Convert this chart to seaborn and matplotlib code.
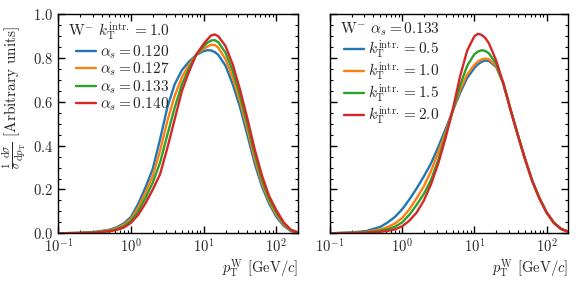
import numpy as np
import pandas as pd
import matplotlib
matplotlib.use('Agg')
import matplotlib.pyplot as plt
import seaborn as sns
from matplotlib.ticker import MultipleLocator, LogLocator, NullFormatter

# log10(pT) grid shared by every curve
log_pt = [-1.0, -0.7, -0.5, -0.3, -0.2, -0.1, 0.0, 0.1, 0.2, 0.3, 0.4, 0.5, 0.6, 0.7,
          0.8, 0.9, 1.0, 1.05, 1.1, 1.15, 1.2, 1.3, 1.4, 1.5, 1.6, 1.7, 1.8, 1.9,
          2.0, 2.1, 2.2, 2.3]
pt = np.power(10.0, log_pt)

# left panel: W- kT=1.0, varying alpha_s
alphas = ['0.120', '0.127', '0.133', '0.140']
as_120 = [0.0, 0.002, 0.006, 0.016, 0.027, 0.045, 0.075, 0.135, 0.21, 0.295, 0.43, 0.575,
          0.68, 0.745, 0.785, 0.815, 0.832, 0.836, 0.835, 0.828, 0.815, 0.765, 0.68,
          0.575, 0.45, 0.32, 0.215, 0.135, 0.075, 0.034, 0.01, 0.002]
as_127 = [0.0, 0.0017, 0.005, 0.014, 0.023, 0.039, 0.066, 0.118, 0.186, 0.263, 0.377,
          0.513, 0.627, 0.713, 0.77, 0.816, 0.843, 0.852, 0.861, 0.86, 0.848, 0.795,
          0.71, 0.602, 0.475, 0.342, 0.23, 0.145, 0.085, 0.039, 0.012, 0.003]
as_133 = [0.0, 0.0013, 0.004, 0.011, 0.019, 0.032, 0.057, 0.101, 0.162, 0.232, 0.323,
          0.45, 0.573, 0.68, 0.755, 0.817, 0.854, 0.87, 0.88, 0.882, 0.873, 0.825,
          0.74, 0.628, 0.5, 0.364, 0.245, 0.155, 0.095, 0.045, 0.014, 0.0035]
as_140 = [0.0, 0.001, 0.003, 0.009, 0.015, 0.026, 0.048, 0.085, 0.138, 0.2, 0.27, 0.39,
          0.52, 0.65, 0.74, 0.818, 0.865, 0.885, 0.903, 0.908, 0.9, 0.855, 0.77, 0.655,
          0.525, 0.385, 0.265, 0.17, 0.105, 0.05, 0.016, 0.004]

# right panel: W- alpha_s=0.133, varying intrinsic kT
kts = ['0.5', '1.0', '1.5', '2.0']
kt_05 = [0.0, 0.004, 0.01, 0.03, 0.05, 0.075, 0.11, 0.155, 0.205, 0.26, 0.32, 0.395,
         0.475, 0.56, 0.64, 0.71, 0.755, 0.772, 0.783, 0.789, 0.787, 0.76, 0.685,
         0.565, 0.45, 0.34, 0.24, 0.16, 0.095, 0.048, 0.02, 0.007]
kt_10 = [0.0, 0.002, 0.006, 0.018, 0.029, 0.045, 0.07, 0.11, 0.16, 0.215, 0.285, 0.37,
         0.46, 0.56, 0.655, 0.725, 0.77, 0.785, 0.794, 0.798, 0.795, 0.765, 0.685,
         0.565, 0.45, 0.34, 0.24, 0.16, 0.095, 0.048, 0.02, 0.007]
kt_15 = [0.0, 0.0015, 0.004, 0.012, 0.019, 0.03, 0.05, 0.085, 0.13, 0.18, 0.245, 0.335,
         0.445, 0.56, 0.675, 0.765, 0.818, 0.83, 0.836, 0.833, 0.822, 0.775, 0.685,
         0.565, 0.45, 0.34, 0.24, 0.16, 0.095, 0.048, 0.02, 0.007]
kt_20 = [0.0, 0.001, 0.003, 0.007, 0.011, 0.018, 0.032, 0.058, 0.095, 0.15, 0.225, 0.32,
         0.435, 0.565, 0.715, 0.835, 0.9, 0.911, 0.906, 0.892, 0.868, 0.79, 0.685,
         0.565, 0.45, 0.34, 0.24, 0.16, 0.095, 0.048, 0.02, 0.007]


def long_frame(names, series, fmt):
    rows = []
    for name, ys in zip(names, series):
        for x, y in zip(pt, ys):
            rows.append({'pt': x, 'y': y, 'label': fmt.format(name)})
    return pd.DataFrame(rows)


df_left = long_frame(alphas, [as_120, as_127, as_133, as_140], r'$\alpha_s = {}$')
df_right = long_frame(kts, [kt_05, kt_10, kt_15, kt_20],
                      r'$k_\mathrm{{T}}^\mathrm{{intr.}} = {}$')

sns.set_style('ticks')
plt.rcParams.update({
    'font.family': 'serif',
    'font.serif': ['cmr10'],
    'mathtext.fontset': 'cm',
    'axes.formatter.use_mathtext': True,
    'font.size': 10,
    'axes.linewidth': 1.0,
    'axes.edgecolor': 'black',
})

palette = sns.color_palette('tab10', 4)

fig = plt.figure(figsize=(5.79, 2.82), dpi=100)
ax1 = fig.add_axes([0.1007, 0.1727, 0.4145, 0.7766])
ax2 = fig.add_axes([0.570, 0.1727, 0.4116, 0.7766])

sns.lineplot(data=df_left, x='pt', y='y', hue='label', palette=palette,
             estimator=None, sort=False, linewidth=1.7, ax=ax1)
sns.lineplot(data=df_right, x='pt', y='y', hue='label', palette=palette,
             estimator=None, sort=False, linewidth=1.7, ax=ax2)

titles = [r'W$^{-}$ $k_\mathrm{T}^\mathrm{intr.} = 1.0$',
          r'W$^{-}$ $\alpha_s = 0.133$']
for ax, title in zip([ax1, ax2], titles):
    ax.set_xscale('log')
    ax.set_xlim(0.1, 200)
    ax.set_ylim(0.0, 1.0)
    ax.yaxis.set_major_locator(MultipleLocator(0.2))
    ax.yaxis.set_minor_locator(MultipleLocator(0.05))
    ax.xaxis.set_minor_locator(LogLocator(base=10, subs=np.arange(2, 10)))
    ax.xaxis.set_minor_formatter(NullFormatter())
    ax.tick_params(which='both', direction='in', top=True, right=True,
                   color='black', labelsize=10.5)
    ax.tick_params(which='major', length=5, width=1.0)
    ax.tick_params(which='minor', length=2.5, width=0.8)
    ax.set_xlabel(r'$p_\mathrm{T}^\mathrm{W}$ [GeV/$c$]', loc='right',
                  fontsize=10.5, labelpad=1)
    leg = ax.legend(title=title, frameon=False, loc='upper left',
                    bbox_to_anchor=(0.04, 0.97),
                    fontsize=11, title_fontsize=11, handlelength=1.3,
                    handletextpad=0.3, labelspacing=0.0, borderaxespad=0.0,
                    borderpad=0.0)
    leg._legend_box.align = 'right'

ax1.set_ylabel(r'$\frac{1}{\sigma}\frac{\mathrm{d}\sigma}{\mathrm{d}p_\mathrm{T}}$ [Arbitrary units]',
               fontsize=11)
ax1.yaxis.set_label_coords(-0.125, 0.62)
ax2.set_ylabel('')
ax2.tick_params(labelleft=False)

fig.savefig('out.png', dpi=100)
